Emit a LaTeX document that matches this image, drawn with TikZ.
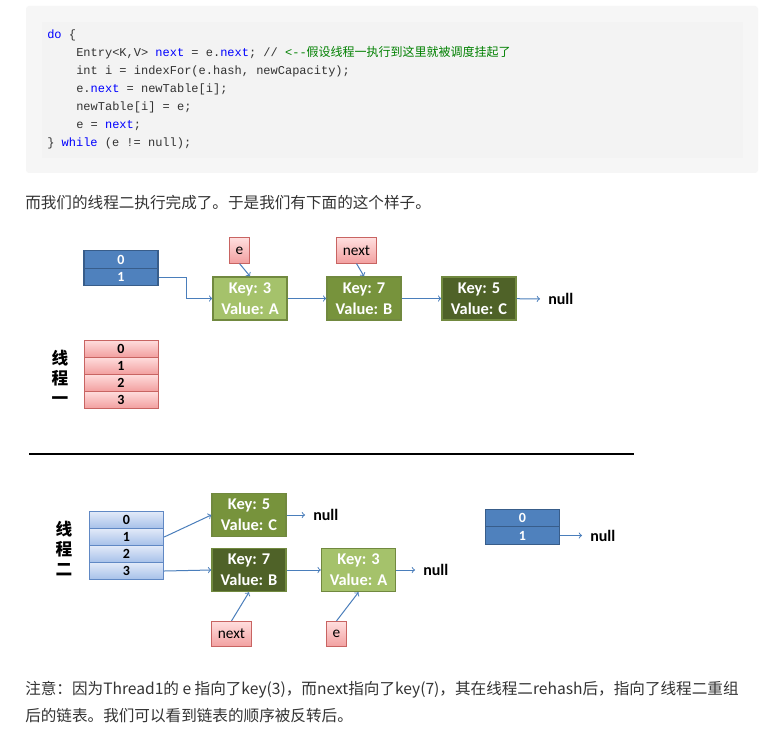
\documentclass[tikz,border=0pt]{standalone}
\usepackage{fontspec}
\setmainfont{Carlito}
\setmonofont{Liberation Mono}
\newfontfamily\cjk{Noto Sans CJK SC}
\usetikzlibrary{positioning}

\definecolor{codebg}{RGB}{246,246,246}
\definecolor{codein}{RGB}{243,243,243}
\definecolor{codetx}{RGB}{51,51,51}
\definecolor{codekw}{RGB}{0,0,255}
\definecolor{codecm}{RGB}{0,128,0}
\definecolor{bodytx}{RGB}{51,51,51}
\definecolor{olight}{RGB}{165,194,107}
\definecolor{omid}{RGB}{119,147,60}
\definecolor{odark}{RGB}{79,98,40}
\definecolor{oline}{RGB}{113,137,63}
\definecolor{hblue}{RGB}{79,129,189}
\definecolor{hline}{RGB}{56,93,138}
\definecolor{pinktop}{RGB}{255,222,222}
\definecolor{pinkbot}{RGB}{242,160,160}
\definecolor{pinkline}{RGB}{200,100,98}
\definecolor{skytop}{RGB}{226,234,248}
\definecolor{skybot}{RGB}{166,192,233}
\definecolor{skyline}{RGB}{96,136,196}
\definecolor{ptrarrow}{RGB}{74,126,187}

\begin{document}
\begin{tikzpicture}[x=0.75pt,y=-0.75pt,
  codeline/.style={anchor=base west,inner sep=0pt,text=codetx,font=\fontsize{9}{11}\selectfont\ttfamily},
  bodyline/.style={anchor=west,inner sep=0pt,text=bodytx,font=\cjk\fontsize{11.7}{14}\selectfont},
  keybox/.style={rectangle,draw=oline,line width=1.1pt,minimum width=55.5pt,minimum height=32.25pt,inner sep=0pt,align=center,text=white,font=\fontsize{12.3}{15.75}\selectfont\bfseries},
  lightkey/.style={keybox,fill=olight},
  midkey/.style={keybox,fill=omid},
  darkkey/.style={keybox,fill=odark},
  headcell/.style={rectangle,draw=hline,line width=0.9pt,fill=hblue,minimum width=55.5pt,minimum height=13.1pt,inner sep=0pt,text=white,font=\fontsize{10.5}{11}\selectfont\bfseries},
  pinkcell/.style={rectangle,draw=pinkline,line width=0.6pt,top color=pinktop,bottom color=pinkbot,minimum width=55.5pt,minimum height=12.75pt,inner sep=0pt,font=\fontsize{10.5}{11}\selectfont\bfseries},
  skycell/.style={rectangle,draw=skyline,line width=0.6pt,top color=skytop,bottom color=skybot,minimum width=56pt,minimum height=12.75pt,inner sep=0pt,font=\fontsize{10.5}{11}\selectfont\bfseries},
  ptrbox/.style={rectangle,draw=pinkline,line width=0.6pt,top color=pinktop,bottom color=pinkbot,minimum height=19pt,inner xsep=4.5pt,inner ysep=0pt,font=\fontsize{11.5}{12}\selectfont},
  nullnode/.style={inner xsep=6pt,inner ysep=0pt,font=\fontsize{12}{13}\selectfont\bfseries},
  threadlbl/.style={align=center,inner sep=0pt,font=\cjk\fontsize{12.5}{15}\selectfont\bfseries},
  link/.style={->,draw=ptrarrow,line width=0.75pt}]

\fill[white] (0,0) rectangle (766,734);
\useasboundingbox (0,0) rectangle (766,734);

% code block
\fill[codebg,rounded corners=2.25pt] (26,6) rectangle (758,173);
\fill[codein] (42,22) rectangle (743,158);
\node[codeline] (code1) at (47,39) {\textcolor{codekw}{do} \{};
\node[codeline] (code2) at (76,57) {Entry<K,V> \textcolor{codekw}{next} = e.\textcolor{codekw}{next}; // \textcolor{codecm}{<-{}-{\cjk 假设线程一执行到这里就被调度挂起了}}};
\node[codeline] (code3) at (76,75) {int i = indexFor(e.hash, newCapacity);};
\node[codeline] (code4) at (76,93) {e.\textcolor{codekw}{next} = newTable[i];};
\node[codeline] (code5) at (76,111) {newTable[i] = e;};
\node[codeline] (code6) at (76,129) {e = \textcolor{codekw}{next};};
\node[codeline] (code7) at (47,147) {\} \textcolor{codekw}{while} (e != null);};

\node[bodyline] (title) at (25,203) {而我们的线程二执行完成了。于是我们有下面的这个样子。};

% Step 1: thread one
\path
(121,259.5)  node[headcell] (h0) {0}
(121,277)    node[headcell] (h1) {1}
(250,298.5)  node[lightkey]  (a1) {Key: 3\\Value: A}
(364,298.5)  node[midkey]    (b1) {Key: 7\\Value: B}
(479,298.5)  node[darkkey]   (c1) {Key: 5\\Value: C}
(239.5,250.5) node[ptrbox]   (ea) {e}
(356.5,250.5) node[ptrbox]   (na) {next}
(540,299)    node[nullnode,anchor=west] (n1) {null}
(60,377)     node[threadlbl] (th1) {线\\程\\一}
(121,348.5)  node[pinkcell] (p0) {0}
(121,365.5)  node[pinkcell] (p1) {1}
(121,382.5)  node[pinkcell] (p2) {2}
(121,399.5)  node[pinkcell] (p3) {3}
;

\draw[link] (h1.east) -- ++(28,0) |- (a1.west);
\draw[link] (a1) -- (b1);
\draw[link] (b1) -- (c1);
\draw[link] (c1) -- (n1);
\draw[link] (ea.south) -- (a1.north);
\draw[link] (na.south) -- (b1.north);
% End step 1

\draw[line width=1.5pt] (29,454) -- (634,454);

% Step 2: thread two
\path
(64,549)     node[threadlbl] (th2) {线\\程\\二}
(126.5,520)  node[skycell] (q0) {0}
(126.5,537)  node[skycell] (q1) {1}
(126.5,554)  node[skycell] (q2) {2}
(126.5,571)  node[skycell] (q3) {3}
(249,515)    node[midkey]   (c2) {Key: 5\\Value: C}
(249,570)    node[darkkey]  (b2) {Key: 7\\Value: B}
(358.5,570)  node[lightkey] (a2) {Key: 3\\Value: A}
(305,515)    node[nullnode,anchor=west] (n2) {null}
(415,570)    node[nullnode,anchor=west] (n3) {null}
(231.5,634)  node[ptrbox] (nb) {next}
(336.5,634)  node[ptrbox] (eb) {e}
(522.5,518)  node[headcell] (r0) {0}
(522.5,535.5) node[headcell] (r1) {1}
(582,535.5)  node[nullnode,anchor=west] (n4) {null}
;

\draw[link] (q1.east) -- (c2.west);
\draw[link] (q3.east) -- (b2.west);
\draw[link] (c2) -- (n2);
\draw[link] (b2) -- (a2);
\draw[link] (a2) -- (n3);
\draw[link] (nb.north) -- (b2.south);
\draw[link] (eb.north) -- (a2.south);
\draw[link] (r1.east) -- (n4);

\node[bodyline] (note1) at (25,690) {注意：因为Thread1的 e 指向了key(3)，而next指向了key(7)，其在线程二rehash后，指向了线程二重组};
\node[bodyline] (note2) at (25,716) {后的链表。我们可以看到链表的顺序被反转后。};

\end{tikzpicture}
\end{document}
